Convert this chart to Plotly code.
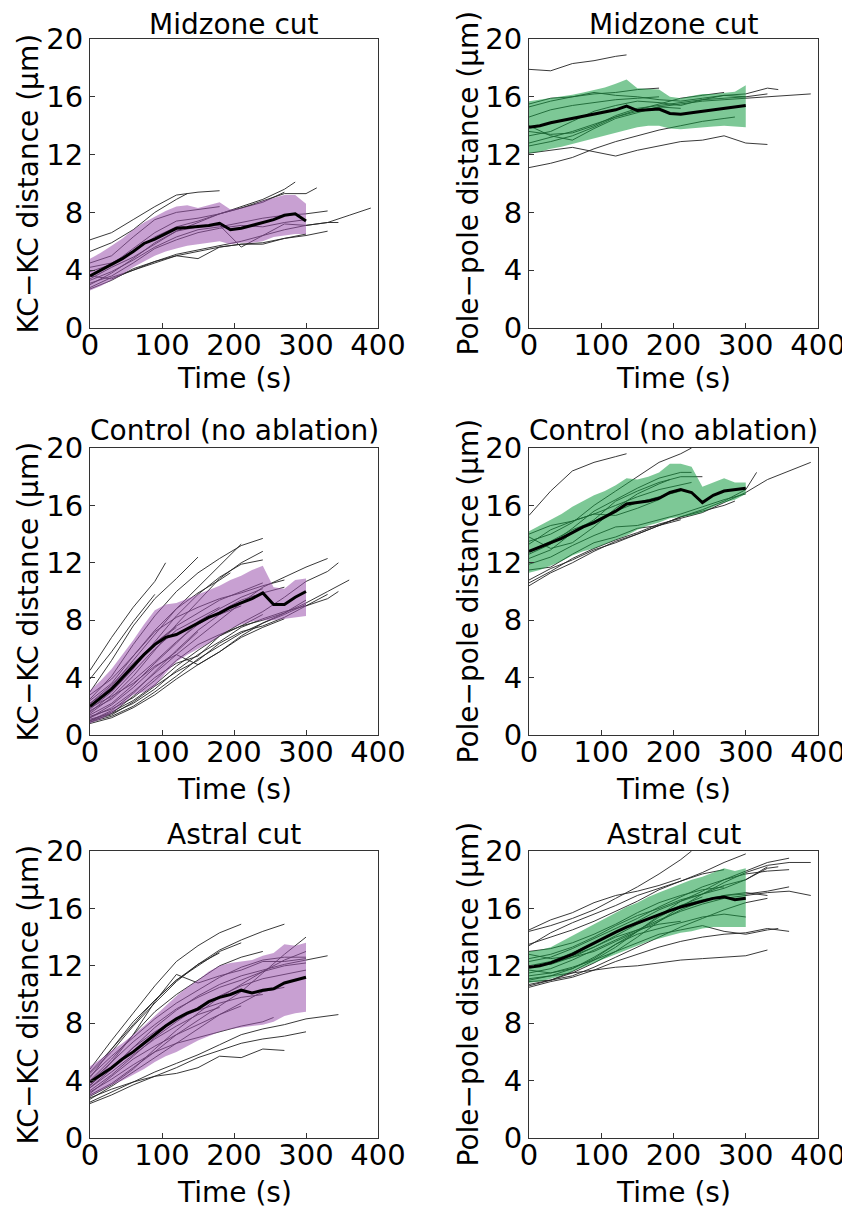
import plotly.graph_objects as go

# The page adds an 8 px body margin, so the figure is 8 px smaller than the window
# and all pixel positions below are window pixels shifted by OFF.
WIN_W, WIN_H = 850, 1214
OFF = 8
W, H = WIN_W - OFF, WIN_H - OFF

# ---------------- data ----------------
T15 = [0, 15, 30, 45, 60, 75, 90, 105, 120, 135, 150, 165, 180, 195, 210, 225, 240, 255, 270, 285, 300]

# Panel A: KC-KC distance, midzone cut
kc_mid_mean = [3.6, 4.0, 4.45, 4.8, 5.3, 5.85, 6.15, 6.5, 6.9, 6.95, 7.0, 7.1, 7.25, 6.8, 6.9, 7.1, 7.3, 7.5, 7.8, 7.9, 7.4]
kc_mid_upper = [4.8, 5.2, 5.7, 6.2, 6.8, 7.3, 7.7, 8.1, 8.4, 8.5, 8.3, 8.5, 8.7, 8.2, 8.3, 8.5, 8.8, 9.0, 9.2, 9.2, 8.6]
kc_mid_lower = [2.6, 2.9, 3.3, 3.7, 4.2, 4.6, 5.0, 5.3, 5.5, 5.7, 5.8, 5.9, 6.0, 5.8, 5.9, 5.9, 6.0, 6.3, 6.4, 6.5, 6.5]
kc_mid_traces = [
    (180, [6.1, 6.6, 7.5, 8.4, 9.2, 9.4, 9.5]),
    (135, [5.3, 5.9, 6.8, 8.0, 8.9, 9.3]),
    (285, [4.2, 4.5, 5.3, 6.3, 7.0, 7.4, 7.9, 8.4, 8.9, 9.6, 10.1]),
    (315, [3.0, 3.8, 4.8, 5.9, 6.7, 7.3, 7.9, 8.3, 8.8, 9.3, 9.3, 9.7]),
    (390, [2.8, 3.5, 4.0, 4.6, 5.1, 5.4, 5.7, 6.0, 6.4, 6.8, 7.1, 7.3, 7.8, 8.3]),
    (330, [3.3, 3.9, 4.7, 5.6, 6.3, 6.8, 7.0, 7.3, 7.6, 7.8, 7.9, 8.1]),
    (345, [3.4, 4.2, 4.9, 5.8, 6.7, 7.0, 7.1, 5.6, 6.4, 7.2, 7.1, 7.3, 7.3]),
    (330, [2.7, 3.3, 4.1, 4.6, 5.0, 5.3, 5.6, 5.8, 5.9, 6.2, 6.4, 6.7]),
    (300, [3.6, 3.4, 4.0, 4.5, 5.0, 4.8, 5.6, 5.8, 5.8, 6.2, 6.5]),
    (180, [4.5, 5.0, 6.3, 7.5, 8.0, 8.2, 8.4]),
    (270, [3.9, 4.4, 5.5, 6.6, 7.4, 7.6, 7.9, 8.3, 8.7, 9.4]),
    (300, [3.1, 3.6, 4.5, 5.5, 6.1, 6.6, 6.9, 7.1, 7.0, 7.3, 7.5]),
]

# Panel B: pole-pole distance, midzone cut
pp_mid_mean = [13.9, 14.0, 14.2, 14.35, 14.5, 14.65, 14.8, 14.95, 15.1, 15.35, 15.05, 15.1, 15.15, 14.85, 14.8, 14.9, 15.0, 15.1, 15.2, 15.3, 15.4]
pp_mid_upper = [15.7, 15.8, 15.9, 16.0, 16.15, 16.3, 16.45, 16.65, 16.9, 17.2, 16.6, 16.55, 16.5, 16.0, 15.9, 16.05, 16.2, 16.2, 16.25, 16.35, 16.8]
pp_mid_lower = [12.1, 12.2, 12.4, 12.55, 12.75, 12.9, 13.1, 13.3, 13.5, 13.7, 13.9, 14.0, 14.0, 13.8, 13.75, 13.8, 13.9, 13.95, 14.0, 13.95, 13.9]
pp_mid_traces = [
    (135, [17.9, 17.8, 18.3, 18.5, 18.8, 18.9]),
    (330, [12.1, 12.3, 12.5, 12.2, 11.9, 12.3, 12.6, 12.9, 13.0, 13.3, 12.8, 12.7]),
    (285, [11.1, 11.4, 11.8, 12.4, 12.9, 13.3, 13.7, 14.0, 14.3, 14.5, 14.6]),
    (390, [12.8, 13.2, 13.6, 14.1, 14.6, 15.0, 15.3, 15.5, 15.7, 15.8, 15.9, 16.0, 16.1, 16.2]),
    (345, [13.3, 13.6, 14.3, 15.0, 15.4, 15.7, 15.6, 15.4, 15.8, 16.1, 16.2, 16.6, 16.5]),
    (330, [15.3, 15.7, 16.0, 16.3, 16.1, 16.0, 15.8, 15.7, 15.9, 16.1, 16.0, 16.2]),
    (180, [15.5, 15.9, 16.0, 16.2, 16.3, 16.5, 16.6]),
    (180, [14.6, 15.1, 15.4, 15.6, 15.8, 15.9, 16.0]),
    (300, [13.6, 13.4, 13.5, 14.0, 14.7, 15.2, 15.4, 15.6, 15.8, 15.9, 16.0]),
    (210, [14.0, 13.3, 13.0, 13.8, 14.5, 14.9, 15.3, 15.2]),
    (270, [12.6, 12.9, 13.3, 13.9, 14.6, 15.1, 15.5, 15.9, 16.1, 16.3]),
]

# Panel C: KC-KC distance, control
kc_ctl_mean = [2.0, 2.6, 3.2, 4.0, 4.8, 5.6, 6.3, 6.8, 7.0, 7.4, 7.8, 8.2, 8.5, 8.9, 9.2, 9.5, 9.9, 9.1, 9.1, 9.6, 10.0]
kc_ctl_upper = [3.1, 3.8, 4.6, 5.6, 6.6, 7.7, 8.7, 9.1, 9.2, 9.5, 9.8, 10.1, 10.4, 10.8, 11.1, 11.5, 11.8, 10.3, 10.2, 10.8, 10.9]
kc_ctl_lower = [0.8, 1.1, 1.5, 2.1, 2.8, 3.0, 3.4, 4.3, 5.1, 5.6, 6.0, 6.4, 6.9, 7.4, 7.7, 7.9, 8.0, 8.0, 8.1, 8.2, 8.3]
kc_ctl_traces = [
    (105, [4.5, 6.8, 8.9, 10.7, 12.0]),
    (150, [3.0, 5.2, 7.6, 9.5, 10.9, 12.4]),
    (240, [2.5, 4.1, 6.3, 8.3, 10.0, 11.3, 12.3, 13.2, 13.7]),
    (210, [2.0, 3.4, 5.2, 7.0, 8.8, 10.3, 11.8, 13.3]),
    (240, [1.8, 3.0, 4.6, 6.5, 8.3, 9.8, 11.0, 11.9, 12.2]),
    (240, [1.5, 2.6, 4.1, 5.9, 7.7, 9.3, 10.9, 12.0, 12.8]),
    (90, [3.9, 5.8, 7.9, 9.8]),
    (330, [1.2, 1.9, 3.0, 4.3, 5.6, 6.8, 8.0, 9.2, 10.3, 11.0, 11.7, 12.3]),
    (345, [1.0, 1.6, 2.4, 3.5, 4.8, 5.9, 6.9, 7.8, 8.6, 9.6, 10.7, 11.4, 12.0]),
    (360, [0.9, 1.3, 2.0, 3.0, 4.1, 5.3, 6.2, 7.1, 7.8, 8.5, 9.2, 10.0, 10.8]),
    (345, [1.1, 1.5, 2.2, 3.2, 4.5, 5.6, 6.5, 7.5, 8.1, 8.6, 9.0, 9.5, 10.0]),
    (300, [1.3, 1.8, 2.6, 3.8, 5.2, 6.3, 7.0, 7.6, 8.0, 8.5, 9.4]),
    (270, [1.7, 2.5, 3.8, 5.1, 6.5, 7.7, 8.6, 9.4, 9.9, 10.3]),
    (240, [2.2, 3.3, 4.9, 6.4, 7.6, 8.5, 9.4, 10.0, 10.6]),
    (240, [1.4, 2.2, 3.5, 5.0, 6.4, 7.9, 8.8, 9.6, 10.2]),
    (210, [1.0, 1.7, 2.9, 4.4, 5.9, 7.3, 8.4, 9.0]),
    (195, [2.8, 3.9, 5.5, 7.3, 8.8, 9.9, 10.8, 11.3]),
    (180, [1.6, 2.8, 4.4, 6.0, 7.3, 8.1, 8.9]),
    (150, [1.2, 2.1, 3.3, 4.7, 5.8, 7.2]),
    (270, [1.9, 2.7, 3.6, 4.8, 5.6, 4.9, 5.8, 6.8, 7.5, 8.1]),
    (300, [0.8, 1.2, 1.9, 2.8, 3.9, 4.9, 5.8, 6.9, 7.8, 8.4, 9.1]),
    (330, [1.0, 1.4, 2.3, 3.4, 4.4, 5.2, 6.4, 7.2, 7.6, 8.2, 9.0, 9.8]),
    (270, [2.4, 3.6, 5.5, 7.2, 8.2, 8.9, 9.5, 9.9, 10.4, 10.8]),
    (240, [0.9, 1.5, 2.7, 4.0, 5.0, 5.5, 6.9, 7.6, 8.4]),
    (120, [2.2, 3.5, 5.0, 6.4, 7.5]),
]

# Panel D: pole-pole distance, control
pp_ctl_mean = [12.8, 13.1, 13.4, 13.7, 14.1, 14.5, 14.8, 15.2, 15.6, 16.1, 16.2, 16.3, 16.5, 16.9, 17.1, 16.9, 16.2, 16.7, 17.0, 17.1, 17.2]
pp_ctl_upper = [14.2, 14.6, 15.0, 15.4, 15.9, 16.3, 16.7, 17.0, 17.4, 17.9, 17.8, 18.0, 18.3, 18.9, 18.9, 18.7, 17.3, 17.6, 17.9, 17.6, 17.6]
pp_ctl_lower = [11.3, 11.5, 11.8, 12.1, 12.5, 12.8, 13.0, 13.3, 13.6, 13.9, 14.3, 14.6, 14.8, 15.1, 15.2, 15.3, 15.5, 15.9, 16.2, 16.4, 16.8]
pp_ctl_traces = [
    (135, [15.3, 17.0, 18.4, 19.0, 19.4, 19.6]),
    (225, [13.5, 14.0, 14.8, 16.0, 17.0, 18.0, 19.0, 19.6, 20.0]),
    (390, [10.6, 11.4, 12.3, 13.0, 13.6, 14.1, 14.7, 15.1, 15.5, 16.2, 16.9, 17.8, 18.4, 19.0]),
    (315, [10.4, 11.3, 12.0, 12.8, 13.5, 14.0, 14.6, 15.2, 15.7, 16.3, 17.1, 18.3]),
    (240, [12.3, 12.9, 14.1, 15.0, 16.3, 17.0, 17.6, 18.0, 18.0]),
    (225, [12.6, 13.3, 14.4, 15.6, 16.4, 17.2, 17.9, 18.3, 18.3]),
    (225, [13.3, 14.3, 14.9, 15.4, 16.0, 16.6, 17.1, 17.4, 17.6]),
    (285, [11.5, 11.7, 12.6, 13.4, 13.8, 14.4, 14.6, 15.2, 15.6, 16.0, 16.3]),
    (210, [12.8, 13.5, 14.3, 14.9, 15.6, 16.2, 16.6, 17.0]),
    (180, [14.0, 14.6, 14.9, 15.4, 15.3, 15.8, 16.4]),
    (195, [13.8, 13.0, 13.4, 14.5, 15.8, 16.8, 17.5, 17.8]),
    (210, [10.8, 11.6, 12.2, 12.9, 13.4, 14.0, 14.6, 15.0]),
    (300, [11.9, 12.4, 13.2, 13.9, 14.5, 14.6, 15.0, 15.4, 15.9, 16.4, 16.8]),
]

# Panel E: KC-KC distance, astral cut
kc_ast_mean = [3.9, 4.4, 4.9, 5.5, 6.0, 6.6, 7.2, 7.8, 8.3, 8.7, 9.0, 9.5, 9.8, 10.0, 10.3, 10.1, 10.3, 10.4, 10.8, 11.0, 11.2]
kc_ast_upper = [5.0, 5.5, 6.1, 6.6, 7.2, 7.8, 8.5, 9.2, 9.9, 10.5, 11.0, 11.6, 12.0, 12.2, 12.3, 12.4, 12.7, 12.9, 13.5, 13.4, 13.6]
kc_ast_lower = [2.9, 3.3, 3.7, 4.0, 4.4, 4.8, 5.3, 5.7, 6.0, 6.4, 6.8, 7.1, 7.4, 7.6, 7.7, 7.8, 7.9, 8.1, 8.5, 8.7, 8.8]
kc_ast_traces = [
    (210, [4.8, 6.8, 8.7, 10.6, 12.3, 13.4, 14.3, 14.9]),
    (270, [4.5, 6.0, 7.8, 9.4, 10.9, 12.1, 13.1, 13.8, 14.4, 14.9]),
    (210, [4.2, 6.2, 8.1, 9.6, 11.0, 12.0, 13.0, 13.6]),
    (300, [3.0, 3.8, 4.9, 6.0, 7.2, 8.2, 9.2, 10.2, 11.5, 12.8, 14.0]),
    (330, [3.5, 4.8, 6.3, 7.7, 8.9, 9.9, 10.7, 11.3, 11.7, 12.1, 12.4, 12.7]),
    (240, [4.0, 5.5, 7.2, 8.8, 10.0, 11.0, 12.0, 12.6, 13.0]),
    (300, [3.6, 5.3, 7.2, 9.5, 11.4, 10.8, 11.3, 11.7, 12.3, 12.3, 12.5]),
    (345, [2.5, 3.2, 3.9, 4.6, 5.2, 5.8, 6.5, 7.2, 7.6, 7.9, 8.3, 8.5, 8.6]),
    (300, [2.4, 3.0, 3.7, 4.3, 4.9, 5.6, 6.1, 6.6, 6.9, 7.1, 7.4]),
    (270, [2.8, 3.4, 3.9, 4.3, 4.5, 4.9, 5.7, 5.6, 6.2, 6.1]),
    (255, [3.2, 4.1, 5.1, 6.0, 6.6, 7.0, 7.4, 7.8, 8.1, 8.4]),
    (300, [3.9, 5.3, 6.7, 7.9, 9.0, 9.8, 10.5, 11.0, 11.6, 12.0, 12.2]),
    (300, [4.3, 5.7, 7.0, 8.3, 9.4, 10.3, 11.2, 11.9, 12.4, 12.6, 12.6]),
    (300, [3.3, 4.4, 5.7, 7.0, 8.1, 9.1, 9.9, 10.6, 11.1, 11.4, 11.7]),
    (240, [3.7, 4.9, 6.3, 7.4, 8.3, 8.9, 9.4, 9.8, 10.0]),
    (210, [3.1, 4.3, 5.5, 6.4, 7.2, 7.9, 8.6, 9.2]),
    (180, [4.6, 6.2, 7.9, 9.6, 11.0, 12.1, 12.9]),
    (270, [2.7, 3.6, 4.6, 5.6, 6.6, 7.6, 8.6, 9.4, 10.2, 10.5]),
    (180, [3.5, 4.6, 5.8, 6.9, 7.8, 8.6, 9.1]),
    (300, [2.9, 3.7, 4.8, 6.2, 7.5, 8.7, 9.8, 10.7, 11.6, 12.4, 13.0]),
]

# Panel F: pole-pole distance, astral cut
pp_ast_mean = [11.9, 12.0, 12.2, 12.5, 12.8, 13.2, 13.6, 14.0, 14.35, 14.7, 15.0, 15.3, 15.6, 15.85, 16.1, 16.3, 16.5, 16.7, 16.8, 16.6, 16.7]
pp_ast_upper = [13.0, 13.1, 13.3, 13.7, 14.1, 14.5, 14.9, 15.3, 15.7, 16.1, 16.4, 16.8, 17.1, 17.4, 17.7, 18.0, 18.2, 18.5, 18.8, 18.6, 18.8]
pp_ast_lower = [10.8, 10.9, 11.1, 11.3, 11.6, 11.9, 12.2, 12.5, 12.8, 13.1, 13.4, 13.7, 13.9, 14.1, 14.3, 14.4, 14.6, 14.7, 14.7, 14.7, 14.7]
pp_ast_traces = [
    (225, [14.4, 14.8, 15.3, 15.9, 16.7, 17.5, 18.4, 19.4, 20.0]),
    (300, [13.5, 14.0, 14.5, 15.1, 15.8, 16.5, 17.3, 17.9, 18.5, 19.2, 19.8]),
    (360, [11.0, 11.3, 11.8, 12.6, 13.5, 14.4, 15.5, 16.5, 17.2, 18.0, 18.6, 19.2, 19.5]),
    (390, [10.7, 11.0, 11.5, 12.2, 13.0, 14.0, 15.1, 16.1, 17.0, 17.8, 18.5, 19.0, 19.2, 19.2]),
    (360, [12.3, 12.6, 13.2, 13.9, 14.6, 15.3, 16.1, 16.8, 17.5, 18.0, 18.4, 18.6, 18.7]),
    (390, [11.5, 11.8, 12.4, 13.1, 13.8, 14.5, 15.2, 15.8, 16.3, 16.7, 16.9, 17.1, 17.2, 16.9]),
    (360, [12.0, 12.1, 12.6, 13.3, 14.1, 14.9, 15.6, 16.2, 16.6, 16.9, 17.0, 17.2, 17.5]),
    (360, [10.5, 10.9, 11.2, 11.7, 12.3, 12.8, 13.3, 13.7, 14.0, 14.2, 14.3, 14.6, 14.4]),
    (330, [11.1, 11.3, 11.5, 11.7, 11.9, 12.0, 12.2, 12.4, 12.5, 12.6, 12.7, 13.1]),
    (210, [14.5, 15.2, 15.7, 16.4, 16.9, 17.2, 17.6, 18.1]),
    (270, [13.4, 14.3, 15.0, 15.6, 16.2, 16.9, 17.4, 17.9, 18.4, 18.7]),
    (345, [12.5, 12.8, 13.3, 14.0, 14.8, 15.5, 16.0, 16.6, 17.0, 17.4, 18.0, 18.8, 18.9]),
    (300, [11.7, 11.5, 11.8, 12.5, 13.5, 14.2, 14.6, 15.0, 15.4, 15.6, 15.4]),
    (330, [10.9, 11.0, 11.3, 11.9, 12.6, 13.3, 14.0, 14.7, 15.3, 15.9, 16.4, 16.7]),
    (330, [12.0, 12.3, 12.9, 13.6, 14.3, 15.1, 15.9, 16.5, 17.0, 17.6, 18.0, 18.9]),
    (345, [11.3, 11.5, 11.9, 12.4, 13.0, 13.6, 14.2, 14.5, 14.8, 14.4, 14.2, 14.5, 14.6]),
    (270, [13.0, 13.2, 13.6, 14.2, 14.9, 15.7, 16.4, 16.9, 17.3, 17.5]),
    (210, [12.8, 12.5, 12.7, 13.3, 14.0, 14.5, 14.9, 15.1]),
    (330, [11.9, 12.2, 12.6, 13.0, 13.7, 14.4, 15.1, 15.9, 16.5, 16.9, 17.1, 16.9]),
    (240, [10.6, 11.0, 11.6, 12.4, 13.3, 14.4, 15.4, 16.2, 16.8]),
]

titles = ["Midzone cut", "Midzone cut", "Control (no ablation)", "Control (no ablation)", "Astral cut", "Astral cut"]
ylabels = ["KC\u2212KC distance (\u03bcm)", "Pole\u2212pole distance (\u03bcm)"] * 3
xlabel = "Time (s)"
x_ticks = [0, 100, 200, 300, 400]
y_ticks = [0, 4, 8, 12, 16, 20]

PURPLE = "rgba(155,82,173,0.55)"
GREEN = "rgba(19,155,64,0.55)"

panels = [
    (kc_mid_traces, kc_mid_mean, kc_mid_upper, kc_mid_lower, PURPLE),
    (pp_mid_traces, pp_mid_mean, pp_mid_upper, pp_mid_lower, GREEN),
    (kc_ctl_traces, kc_ctl_mean, kc_ctl_upper, kc_ctl_lower, PURPLE),
    (pp_ctl_traces, pp_ctl_mean, pp_ctl_upper, pp_ctl_lower, GREEN),
    (kc_ast_traces, kc_ast_mean, kc_ast_upper, kc_ast_lower, PURPLE),
    (pp_ast_traces, pp_ast_mean, pp_ast_upper, pp_ast_lower, GREEN),
]

# ---------------- layout geometry (window pixels) ----------------
col_px = [(90, 378), (529, 818)]
row_px = [(39, 328), (448, 735), (851, 1138)]
title_y_px = [24, 430, 834]
xlabel_y_px = [378, 789, 1192]
ylabel_x_px = [28, 468]

FONT = "DejaVu Sans, Liberation Sans, Arial, sans-serif"
TICK_SIZE = 29
LABEL_SIZE = 28
TITLE_SIZE = 28


def px_x(p):
    return (p - OFF) / W


def px_y(p):
    return 1 - (p - OFF) / H


def trace_times(end):
    return list(range(0, end, 30)) + [end]


fig = go.Figure()
layout = dict(
    width=W, height=H,
    margin=dict(l=0, r=0, t=0, b=0, autoexpand=False),
    paper_bgcolor="white", plot_bgcolor="white",
    showlegend=False,
    font=dict(family=FONT, color="black"),
    annotations=[],
)

for i, (traces, mean, upper, lower, color) in enumerate(panels):
    k = i + 1
    row, col = divmod(i, 2)
    xa = "x" if k == 1 else f"x{k}"
    ya = "y" if k == 1 else f"y{k}"
    for end, vals in traces:
        tt = trace_times(end)
        assert len(tt) == len(vals), (k, end)
        fig.add_trace(go.Scatter(x=tt, y=vals, mode="lines", xaxis=xa, yaxis=ya,
                                 line=dict(color="rgba(35,35,35,0.9)", width=1),
                                 hoverinfo="skip"))
    fig.add_trace(go.Scatter(x=T15 + T15[::-1], y=upper + lower[::-1], mode="lines",
                             fill="toself", fillcolor=color, line=dict(width=0),
                             xaxis=xa, yaxis=ya, hoverinfo="skip"))
    fig.add_trace(go.Scatter(x=T15, y=mean, mode="lines", xaxis=xa, yaxis=ya,
                             line=dict(color="black", width=3)))

    x0, x1 = col_px[col]
    y0, y1 = row_px[row]
    axcommon = dict(showline=True, linecolor="#333", linewidth=1, mirror=True,
                    ticks="inside", ticklen=5, tickwidth=1, tickcolor="#333",
                    showgrid=False, zeroline=False, automargin=False,
                    tickfont=dict(family=FONT, size=TICK_SIZE, color="black"))
    layout["xaxis" if k == 1 else f"xaxis{k}"] = dict(
        axcommon, domain=[px_x(x0), px_x(x1)], range=[0, 400], tickvals=x_ticks,
        anchor=ya, ticklabelstandoff=-9)
    layout["yaxis" if k == 1 else f"yaxis{k}"] = dict(
        axcommon, domain=[px_y(y1), px_y(y0)], range=[0, 20], tickvals=y_ticks,
        anchor=xa)

    cx = (x0 + x1) / 2
    cy = (y0 + y1) / 2
    layout["annotations"].append(dict(
        text=titles[i], x=px_x(cx), y=px_y(title_y_px[row]), xref="paper", yref="paper",
        xanchor="center", yanchor="middle", showarrow=False,
        font=dict(family=FONT, size=TITLE_SIZE, color="black")))
    layout["annotations"].append(dict(
        text=xlabel, x=px_x(cx), y=px_y(xlabel_y_px[row]), xref="paper", yref="paper",
        xanchor="center", yanchor="middle", showarrow=False,
        font=dict(family=FONT, size=LABEL_SIZE, color="black")))
    layout["annotations"].append(dict(
        text=ylabels[i], x=px_x(ylabel_x_px[col]), y=px_y(cy), xref="paper", yref="paper",
        xanchor="center", yanchor="middle", textangle=-90, showarrow=False,
        font=dict(family=FONT, size=LABEL_SIZE, color="black")))

fig.update_layout(**layout)
fig.write_html("out.html")
